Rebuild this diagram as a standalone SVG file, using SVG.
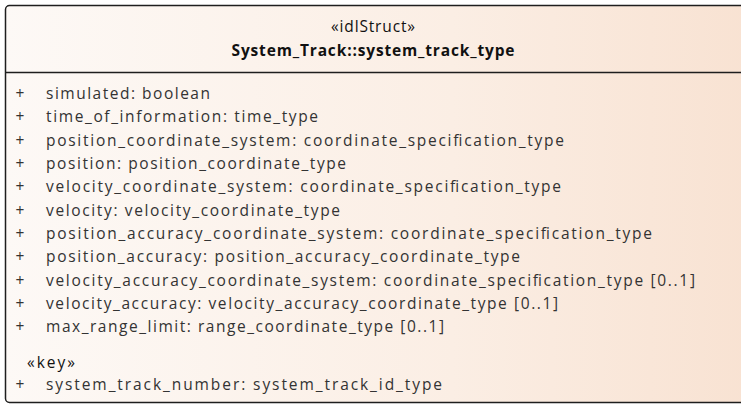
<svg xmlns="http://www.w3.org/2000/svg" width="741" height="404" viewBox="0 0 741 404">
<style>
.t{font-family:"Open Sans","Noto Sans",sans-serif;font-size:15.5px;fill:#333}
.p{font-family:"Open Sans","Noto Sans",sans-serif;font-size:15.5px;fill:#333;text-anchor:middle}
.h{font-family:"Open Sans","Noto Sans",sans-serif;font-size:15.5px;fill:#111;text-anchor:middle}
.hb{font-weight:bold}
</style>
<defs>
<linearGradient id="bg" x1="0" y1="0" x2="1" y2="0">
<stop offset="0" stop-color="#fdf9f6"/>
<stop offset="0.6" stop-color="#fbeee4"/>
<stop offset="1" stop-color="#f8e2d2"/>
</linearGradient>
</defs>
<g id="system_track_type">
<rect x="5.5" y="5.5" width="745" height="397" rx="4" ry="4" fill="url(#bg)" stroke="#1e1e1e" stroke-width="1.5"/>
<line x1="5.5" y1="72.5" x2="741" y2="72.5" stroke="#1e1e1e" stroke-width="1.5"/>
<text class="h" x="373" y="32" textLength="84">«idlStruct»</text>
<text class="h hb" x="373" y="56" textLength="283">System_Track::system_track_type</text>
<g class="p">
<text x="20" y="99">+</text>
<text x="20" y="122.3">+</text>
<text x="20" y="145.6">+</text>
<text x="20" y="169">+</text>
<text x="20" y="192.3">+</text>
<text x="20" y="215.6">+</text>
<text x="20" y="239">+</text>
<text x="20" y="262.3">+</text>
<text x="20" y="285.6">+</text>
<text x="20" y="309">+</text>
<text x="20" y="332.3">+</text>
<text x="20" y="390">+</text>
</g>
<text class="t" x="46" y="99" textLength="164">simulated: boolean</text>
<text class="t" x="46" y="122.3" textLength="272">time_of_information: time_type</text>
<text class="t" x="46" y="145.6" textLength="518">position_coordinate_system: coordinate_specification_type</text>
<text class="t" x="46" y="169" textLength="300">position: position_coordinate_type</text>
<text class="t" x="46" y="192.3" textLength="515">velocity_coordinate_system: coordinate_specification_type</text>
<text class="t" x="46" y="215.6" textLength="294">velocity: velocity_coordinate_type</text>
<text class="t" x="46" y="239" textLength="606">position_accuracy_coordinate_system: coordinate_specification_type</text>
<text class="t" x="46" y="262.3" textLength="474">position_accuracy: position_accuracy_coordinate_type</text>
<text class="t" x="46" y="285.6" textLength="649">velocity_accuracy_coordinate_system: coordinate_specification_type [0..1]</text>
<text class="t" x="46" y="309" textLength="512">velocity_accuracy: velocity_accuracy_coordinate_type [0..1]</text>
<text class="t" x="46" y="332.3" textLength="398">max_range_limit: range_coordinate_type [0..1]</text>
<text class="t" x="27" y="368" textLength="48" style="fill:#111">«key»</text>
<text class="t" x="46" y="390" textLength="396">system_track_number: system_track_id_type</text>
</g>
</svg>
